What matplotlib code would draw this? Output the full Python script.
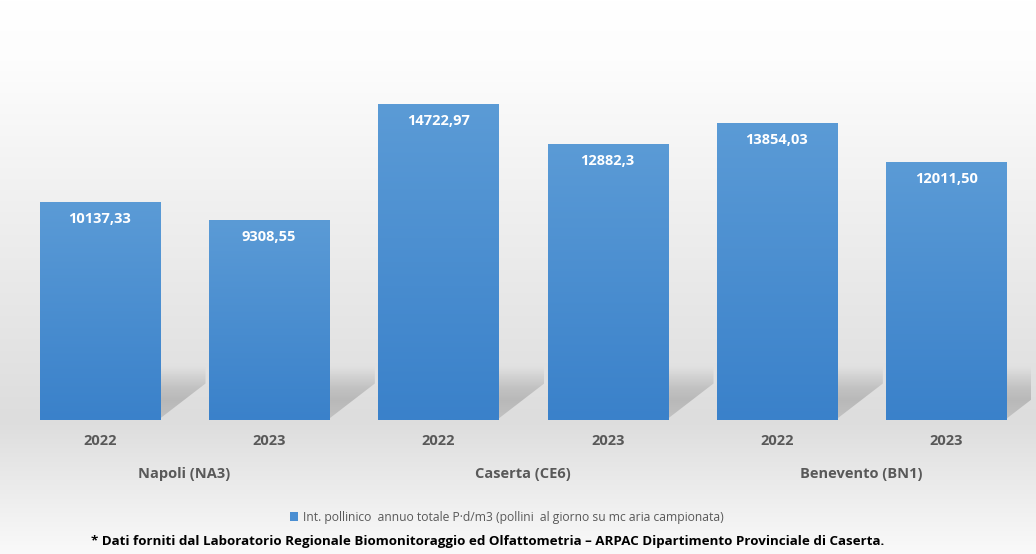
import matplotlib
matplotlib.use("Agg")
import matplotlib.pyplot as plt
import numpy as np
from matplotlib.patches import Patch, Polygon
from matplotlib.colors import LinearSegmentedColormap

# ---- data ----
years = ["2022", "2023", "2022", "2023", "2022", "2023"]
stations = ["Napoli (NA3)", "Caserta (CE6)", "Benevento (BN1)"]
values = [10137.33, 9308.55, 14722.97, 12882.3, 13854.03, 12011.50]
value_labels = ["10137,33", "9308,55", "14722,97", "12882,3", "13854,03", "12011,50"]
legend_label = "Int. pollinico  annuo totale P·d/m3 (pollini  al giorno su mc aria campionata)"
footnote = ("* Dati forniti dal Laboratorio Regionale Biomonitoraggio ed Olfattometria \u2013 "
            "ARPAC Dipartimento Provinciale di Caserta.")

W, H = 1036, 554
fig = plt.figure(figsize=(W / 100, H / 100), dpi=100)

# ---- background gradient ----
bg = fig.add_axes([0, 0, 1, 1], zorder=-10)
ys = np.arange(H)
stops_y = [0, 60, 200, 420, 480, 554]
stops_v = [255, 253, 240, 221, 234, 250]
g = np.interp(ys, stops_y, stops_v) / 255.0
img = np.repeat(g[:, None], 2, axis=1)
bg.imshow(np.dstack([img, img, img]), extent=[0, 1, 0, 1], aspect="auto", origin="upper")
bg.set_axis_off()

# ---- main axes ----
ax = fig.add_axes([15 / W, 134 / H, 1016 / W, 400 / H])
ax.patch.set_alpha(0)
x = np.arange(len(values))
bw = 0.71
bars = ax.bar(x, values, width=bw, color="#4a8ed2", zorder=3)
ymax = 18637
ax.set_xlim(-0.5, len(values) - 0.5)
ax.set_ylim(0, ymax)

# gradient fill for bars
bar_cmap = LinearSegmentedColormap.from_list("b", ["#3a81ca", "#5b9bd6"])
grad = np.linspace(0, 1, 256)[:, None]
for b in bars:
    x0, w, h = b.get_x(), b.get_width(), b.get_height()
    im = ax.imshow(grad, extent=[x0, x0 + w, 0, h], origin="lower", aspect="auto",
                   cmap=bar_cmap, zorder=3.5)
    im.set_clip_path(b)

# shadows behind bars
sh_top = 2500
sh_knee = 1700
sh_w = 0.27
for b in bars:
    xr = b.get_x() + b.get_width()
    poly = Polygon([(xr, 0), (xr, sh_top), (xr + sh_w, sh_top), (xr + sh_w, sh_knee), (xr, 60)],
                   closed=True, facecolor="none", edgecolor="none")
    ax.add_patch(poly)
    a = np.interp(np.linspace(0, sh_top, 200), [0, 900, 1500, sh_top], [0.30, 0.42, 0.32, 0.0])
    rgba = np.zeros((200, 2, 4))
    rgba[..., :3] = 0.52
    rgba[..., 3] = a[:, None]
    im = ax.imshow(rgba, extent=[xr, xr + sh_w, 0, sh_top], origin="lower", aspect="auto", zorder=2)
    im.set_clip_path(poly)

ax.set_xlim(-0.5, len(values) - 0.5)
ax.set_ylim(0, ymax)

for s in ax.spines.values():
    s.set_visible(False)
ax.set_yticks([])
ax.set_xticks(x)
ax.set_xticklabels(years, fontsize=10.5, fontweight="bold", color="#595959", family="Open Sans")
ax.tick_params(axis="x", length=0, pad=10)

# value labels
for b, lab in zip(bars, value_labels):
    ax.annotate(lab, (b.get_x() + b.get_width() / 2, b.get_height()), xytext=(0, -17),
                textcoords="offset pixels", ha="center", va="center", color="white",
                fontsize=10.5, fontweight="bold", family="Open Sans", zorder=5)

# group labels
for i, st in enumerate(stations):
    cx = (x[2 * i] + x[2 * i + 1]) / 2
    ax.text(cx, -54 / 400, st, transform=ax.get_xaxis_transform(), ha="center", va="center",
            fontsize=10.5, fontweight="bold", color="#595959", family="Open Sans")

# legend
handle = Patch(facecolor="#4a8ed2", edgecolor="none")
leg = fig.legend(handles=[handle], labels=[legend_label], loc="center",
                 bbox_to_anchor=(507 / W, 1 - 517 / H), frameon=False,
                 handlelength=0.7, handleheight=0.7, handletextpad=0.4,
                 prop={"family": "Open Sans", "size": 8.75})
for t in leg.get_texts():
    t.set_color("#595959")

# footnote
fig.text(488 / W, 1 - 541 / H, footnote, ha="center", va="center", fontsize=9.6,
         fontweight="bold", color="black", family="Open Sans")

fig.savefig("out.png", dpi=100)
